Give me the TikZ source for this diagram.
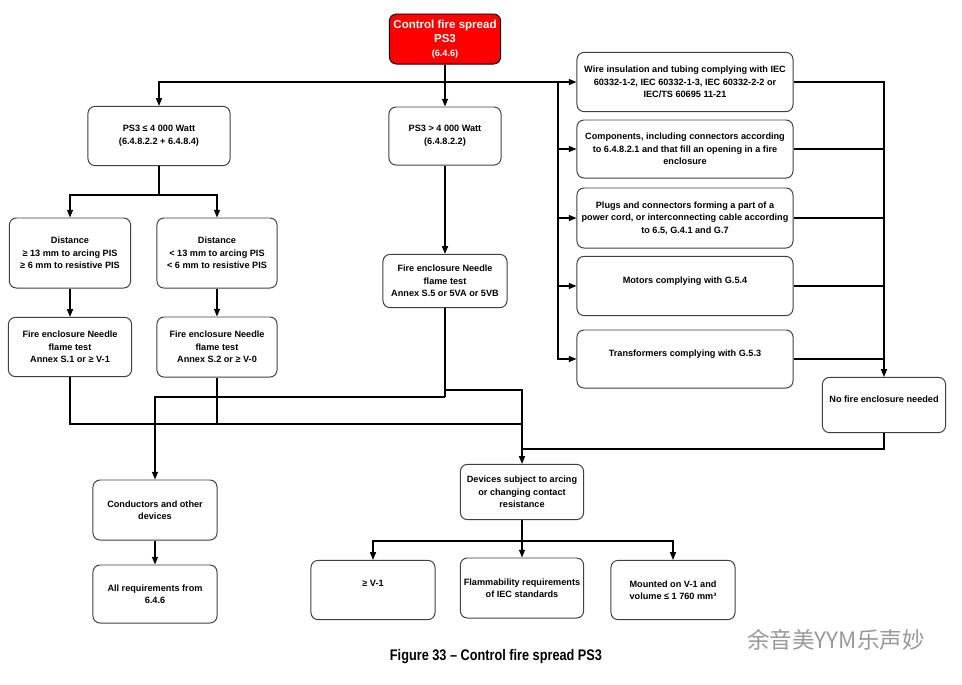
\documentclass[tikz,border=0pt]{standalone}
\usepackage{fontspec}
\setmainfont{Liberation Sans}
\newfontfamily\capfont[FakeStretch=0.83]{Liberation Sans}
\newfontfamily\cjkfont{Noto Sans CJK SC}
\usetikzlibrary{arrows.meta}

\begin{document}
\begin{tikzpicture}[x=0.025cm,y=-0.025cm,
    box/.style={draw=black!75,line width=0.7pt,rounded corners=5pt,fill=white,
      align=center,inner sep=1pt,font=\fontsize{6.5}{8.9}\selectfont\bfseries},
    redbox/.style={box,fill=red,draw=black,text=white,
      font=\fontsize{8.2}{10}\selectfont\bfseries},
    line/.style={line width=0.9pt},
    arr/.style={line,-{Triangle[length=5.5pt,width=4.3pt]}}]

        \useasboundingbox (0,0) rectangle (962,685);

        \node[redbox,minimum width=2.78cm,minimum height=1.25cm] (ctrl) at (445,39)
            {Control fire spread\\PS3\\{\fontsize{6.5}{8}\selectfont(6.4.6)}};

        \node[box,minimum width=3.55cm,minimum height=1.48cm] (low) at (159,136)
            {PS3 ≤ 4 000 Watt\\(6.4.8.2.2 + 6.4.8.4)};
        \node[box,minimum width=2.8cm,minimum height=1.45cm] (high) at (445,136)
            {PS3 > 4 000 Watt\\(6.4.8.2.2)};

        \node[box,minimum width=3.03cm,minimum height=1.75cm] (distA) at (70,253)
            {Distance\\≥ 13 mm to arcing PIS\\≥ 6 mm to resistive PIS};
        \node[box,minimum width=3.0cm,minimum height=1.75cm] (distB) at (217,253)
            {Distance\\< 13 mm to arcing PIS\\< 6 mm to resistive PIS};

        \node[box,minimum width=3.08cm,minimum height=1.48cm] (needleA) at (70,347)
            {Fire enclosure Needle\\flame test\\Annex S.1 or ≥ V-1};
        \node[box,minimum width=3.0cm,minimum height=1.5cm] (needleB) at (217,347)
            {Fire enclosure Needle\\flame test\\Annex S.2 or ≥ V-0};
        \node[box,minimum width=3.1cm,minimum height=1.33cm] (needleC) at (445,281)
            {Fire enclosure Needle\\flame test\\Annex S.5 or 5VA or 5VB};

        %right column
        \node[box,minimum width=5.4cm,minimum height=1.48cm] (wire) at (685,82)
            {Wire insulation and tubing complying with IEC\\60332-1-2, IEC 60332-1-3, IEC 60332-2-2 or\\IEC/TS 60695 11-21};
        \node[box,minimum width=5.4cm,minimum height=1.45cm] (comp) at (685,149)
            {Components, including connectors according\\to 6.4.8.2.1 and that fill an opening in a fire\\enclosure};
        \node[box,minimum width=5.4cm,minimum height=1.5cm] (plug) at (685,218)
            {Plugs and connectors forming a part of a\\power cord, or interconnecting cable according\\to 6.5, G.4.1 and G.7};
        \node[box,minimum width=5.4cm,minimum height=1.48cm] (motor) at (685,286)
            {Motors complying with G.5.4\\~};
        \node[box,minimum width=5.4cm,minimum height=1.45cm] (trafo) at (685,359)
            {Transformers complying with G.5.3\\~};
        \node[box,minimum width=3.08cm,minimum height=1.38cm] (nofire) at (884,405)
            {No fire enclosure needed\\~};

        %bottom part
        \node[box,minimum width=3.1cm,minimum height=1.5cm] (cond) at (155,510)
            {Conductors and other\\devices};
        \node[box,minimum width=3.1cm,minimum height=1.45cm] (allreq) at (155,594)
            {All requirements from\\6.4.6};
        \node[box,minimum width=3.08cm,minimum height=1.38cm] (arc) at (522,492)
            {Devices subject to arcing\\or changing contact\\resistance};
        \node[box,minimum width=3.1cm,minimum height=1.48cm] (vone) at (373,590)
            {≥ V-1\\~};
        \node[box,minimum width=3.08cm,minimum height=1.5cm] (flam) at (522,588)
            {Flammability requirements\\of IEC standards};
        \node[box,minimum width=3.1cm,minimum height=1.48cm] (mount) at (673,590)
            {Mounted on V-1 and\\volume ≤ 1 760 mm³};

        \node[font=\capfont\fontsize{10.9}{12}\selectfont\bfseries] (cap) at (496,657)
            {Figure 33 – Control fire spread PS3};
        \node[text=black!40,font=\cjkfont\fontsize{16}{16}\selectfont] (mark) at (836,640)
            {余音美YYM乐声妙};

        %junctions
        \coordinate (T) at (445,82);
        \coordinate (Bus) at (558,82);
        \coordinate (L) at (159,195);
        \coordinate (M1) at (445,390);
        \coordinate (M2) at (445,397);
        \coordinate (J) at (522,424);
        \coordinate (K) at (522,449);
        \coordinate (D) at (522,541);

        \draw[line] (ctrl.south) -- (T);
        \draw[arr] (T) -| (low.north);
        \draw[arr] (T) -- (high.north);
        \draw[arr] (T) -- (wire.west);
        \foreach \n in {comp,plug,motor,trafo}
            \draw[arr] (Bus) |- (\n.west);

        \draw[arr] (wire.east) -| (nofire.north);
        \foreach \n in {comp,plug,motor,trafo}
            \draw[line] (\n.east) -- (\n.east -| nofire.north);

        \draw[line] (low.south) -- (L);
        \draw[arr] (L) -| (distA.north);
        \draw[arr] (L) -| (distB.north);
        \draw[arr] (distA.south) -- (needleA.north);
        \draw[arr] (distB.south) -- (needleB.north);
        \draw[arr] (high.south) -- (needleC.north);

        \draw[line] (needleC.south) -- (M2);
        \draw[arr] (M1) -| (arc.north);
        \draw[arr] (M2) -| (cond.north);
        \draw[line] (needleA.south) |- (J);
        \draw[line] (needleB.south) -- (needleB.south |- J);
        \draw[line] (nofire.south) |- (K);

        \draw[arr] (cond.south) -- (allreq.north);
        \draw[line] (arc.south) -- (D);
        \draw[arr] (D) -| (vone.north);
        \draw[arr] (D) -- (flam.north);
        \draw[arr] (D) -| (mount.north);

\end{tikzpicture}
\end{document}
